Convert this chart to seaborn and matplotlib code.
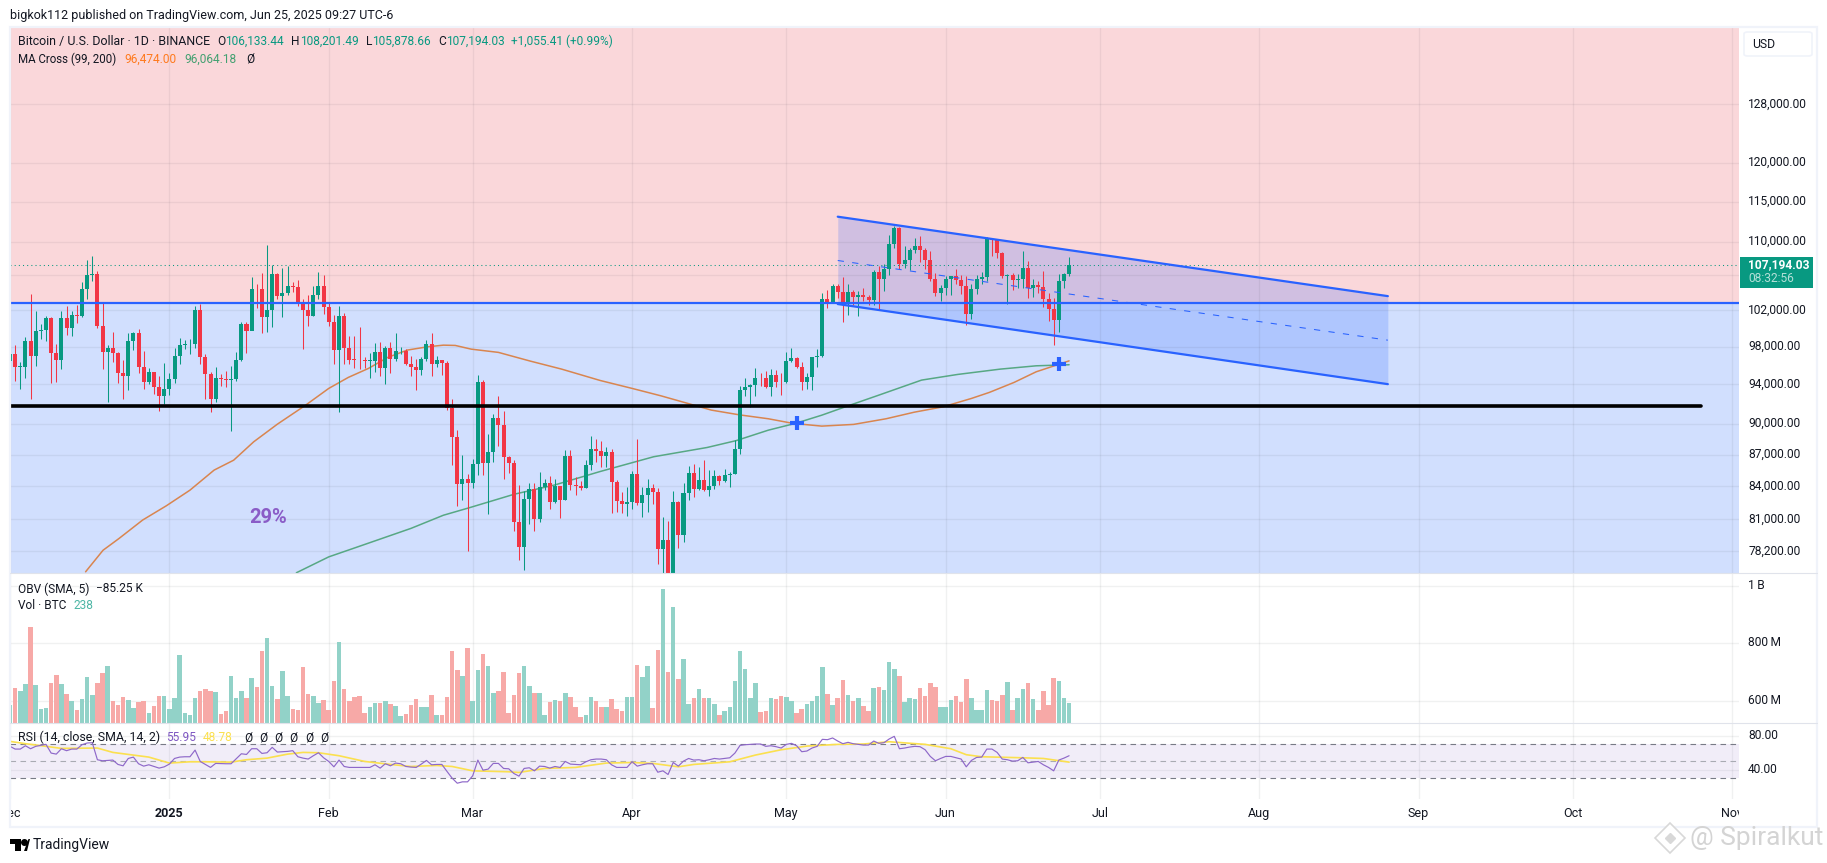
import matplotlib
matplotlib.use("Agg")
import matplotlib.pyplot as plt
import seaborn as sns
from matplotlib.lines import Line2D
from matplotlib.patches import Rectangle, FancyBboxPatch, Polygon
from matplotlib.ticker import NullLocator
from matplotlib.transforms import ScaledTranslation

W, H = 1827, 863

# daily candles, 1 Dec 2024 to 25 Jun 2025
opens = [96408,97185,95840,95849,98587,96945,99740,99831,101109,97336,96593,101125,100004,101424,101420,104463,106058,106133,100204,97461,97805,97291,95186,94881,98663,99429,95791,94299,95300,93738,92792,
 93576,94591,96984,98174,98236,98314,102078,96922,95043,92484,94701,94566,94488,94516,96534,100504,99756,104462,104408,101235,102016,106146,103653,103960,104819,104714,102682,102087,101332,103703,104735,
 102405,100655,97688,101404,97871,96615,96593,96529,96482,96500,97437,95748,97900,96623,97494,97568,96118,95800,95539,96635,98305,96181,96551,96250,91552,88680,84250,84708,
 84349,86064,94270,86220,87281,90606,89931,86801,86222,80734,78600,82862,83722,81066,83969,84343,82580,84075,82718,86854,84167,84043,83832,86054,87498,87392,86909,87232,84424,82648,82389,
 82550,85158,82516,83213,83889,83537,78430,79163,76322,82615,79607,83423,85276,83760,84591,83643,84030,84947,84474,85077,85179,87516,93442,93691,93980,94638,94631,93754,94978,94284,
 94207,96489,96818,95856,94277,94733,96834,97030,103261,102971,104809,104118,102791,104103,103507,103763,103463,103126,106454,105606,106791,109678,111673,107287,107791,109035,109440,108985,107802,105641,103999,
 104592,105642,105883,105432,104790,101579,104390,105615,105793,110294,110257,108686,105930,106040,105480,105555,106900,104550,104880,104630,103300,102120,100963,105333,106133]
highs = [97836,98130,96305,99000,103900,101898,100439,101350,101215,98270,101895,102540,101895,102650,105250,107793,108353,106524,102800,98150,99540,97400,96538,99500,99569,99963,97544,95674,95350,94903,96250,
 95151,97839,98976,98734,98813,102482,102724,97258,95349,95836,95050,95400,95940,97371,100700,100700,105865,104988,106314,109588,107240,106327,106850,107120,105286,105500,103250,103783,104800,106457,106012,
 102783,101456,102500,101740,99120,99197,100137,96880,97323,98345,98478,98119,98460,99466,97972,97700,97000,96700,96900,98766,99500,96950,96600,96500,92540,89414,87000,85120,
 86558,95000,94416,88967,91000,92810,91283,86897,86500,84123,83577,84358,84300,85309,84672,85000,84725,84075,87453,87443,84850,84513,86500,88765,88542,88292,87756,87515,84587,83534,83943,
 85487,88500,83998,84720,84266,83817,81243,80867,83588,82700,84300,85905,86100,85799,86500,85500,85500,85100,85677,85320,88460,93888,94696,94000,95758,95199,95369,95630,95461,95200,
 97437,97895,96888,96304,95199,96920,97732,103971,104361,104984,104972,105819,104976,104356,104192,104550,103709,106660,107108,107300,110797,111980,111800,109454,109300,110422,110718,109300,108910,106313,104900,
 105883,105900,106794,106000,105900,105000,106000,106450,110530,110400,110380,108800,106182,106250,106128,108952,107750,105550,105300,106500,104000,103400,106129,106300,108201]
lows = [95693,94395,93578,94660,92500,95981,98844,98657,94150,94256,95657,99311,99205,100615,101237,103333,105321,100000,95588,92232,96398,94200,92520,93400,97632,95199,93500,94000,93000,91314,92000,
 92867,94200,96100,97735,97250,97900,96132,92500,91220,92206,93831,93711,89256,94310,96500,97300,99950,102277,99517,99550,100119,103243,101262,103750,104107,102520,97777,100234,101328,103321,101560,
 100279,96150,91231,96150,96155,95707,95620,95688,94713,95256,94876,94088,95217,96503,97250,96046,94900,93388,95000,96410,94871,95800,95000,91350,86050,82256,82716,78258,
 83824,85050,85117,81500,86334,87836,84667,85218,80000,77459,76606,80635,79939,80797,83639,81981,82492,81134,82715,83655,83175,83675,83830,85519,86310,85860,85800,81565,81644,81565,81278,
 81970,82320,81211,81659,82379,77153,74508,76239,74620,78456,78971,82792,83034,83678,83600,83111,83736,84130,84388,83949,85150,87076,92800,91660,92855,93870,93602,92800,93742,92910,
 94153,96350,95700,93377,93514,93377,95784,96910,102315,102818,103345,100718,101429,102602,101383,103100,102612,102612,102000,104192,106100,109285,106800,106856,106601,108670,107556,106800,105300,103621,103100,
 103758,103700,105000,103800,100372,101080,103880,105000,105333,108300,108000,105671,102664,104300,104500,104500,103371,103500,103924,102345,100837,98200,99613,104600,105878]
closes = [97185,95840,95849,98587,96945,99740,99831,101109,97336,96593,101125,100004,101424,101420,104463,106058,106133,100204,97461,97805,97291,95186,94881,98663,99429,95791,94299,95300,93738,92792,93576,
 94591,96984,98174,98236,98314,102078,96922,95043,92484,94701,94566,94488,94516,96534,100504,99756,104462,104408,101235,102016,106146,103653,103960,104819,104714,102682,102087,101332,103703,104735,102405,
 100655,97688,101404,97871,96615,96593,96529,96482,96500,97437,95748,97900,96623,97494,97568,96118,95800,95539,96635,98305,96181,96551,96250,91552,88680,84250,84708,84349,
 86064,94270,86220,87281,90606,89931,86801,86222,80734,78600,82862,83722,81066,83969,84343,82580,84075,82718,86854,84167,84043,83832,86054,87498,87392,86909,87232,84424,82648,82389,82550,
 85158,82516,83213,83889,83537,78430,79163,76322,82615,79607,83423,85276,83760,84591,83643,84030,84947,84474,85077,85179,87516,93442,93691,93980,94638,94631,93754,94978,94284,94207,
 96489,96818,95856,94277,94733,96834,97030,103261,102971,104809,104118,102791,104103,103507,103763,103463,103126,106454,105606,106791,109678,111673,107287,107791,109035,109440,108985,107802,105641,103999,104592,
 105642,105883,105432,104790,101579,104390,105615,105793,110294,110257,108686,105930,106040,105480,105555,106900,104550,104880,104630,103300,102120,100963,105333,106133,107194]

# volume bars, in the units of the pane's right hand scale (millions)
volume = [585,644,634,658,857,655,571,575,662,690,658,624,599,568,606,683,620,662,697,721,
 599,585,613,603,575,596,599,557,582,617,617,571,610,759,557,551,610,634,641,634,
 630,554,564,686,610,634,610,679,648,773,818,651,606,704,617,571,568,718,624,617,
 592,603,568,669,805,641,599,613,617,557,578,592,592,599,589,582,547,554,585,606,
 578,578,620,551,551,613,773,707,686,784,599,707,763,721,627,634,700,557,620,697,
 721,651,627,627,551,596,603,599,627,613,578,544,551,613,599,578,578,606,571,564,
 613,613,724,683,721,575,777,989,700,926,676,745,589,610,641,610,610,589,551,564,
 578,669,773,711,610,662,561,564,610,606,617,613,599,557,571,589,599,617,718,624,
 585,610,672,620,599,610,582,564,644,648,637,735,711,686,596,610,606,644,617,662,
 648,578,578,603,617,596,676,610,568,568,637,603,599,620,665,568,610,641,662,606,
 568,634,585,679,669,610,592]

rsi = [67.3,64.1,64.1,68,64.5,67.3,68.4,69.6,59.4,58.2,64.5,62.2,64.1,64.1,69.2,71.2,71.6,51.6,50.4,50.8,
 51.2,46.1,44.5,53.1,54.7,46.9,44.1,45.7,43.7,41.8,43.3,46.5,53.1,54.7,55.1,55.1,62.9,49.6,46.1,42.6,
 47.3,47.1,46.9,46.9,52.8,58.6,57.8,64.5,64.5,59,59.8,66.1,60.6,61,61.4,62.2,55.1,53.5,52.4,56.3,
 59.8,53.9,49.6,43.3,51.2,43.7,42.6,42.6,42.6,42.6,42.6,45.7,41.8,46.9,44.5,47.7,46.9,43.7,43,42.6,
 46.5,50.8,45.7,46.1,46.1,37.9,30,24.1,25.7,25.7,32.8,51.2,39.4,40.6,47.3,47.3,41.4,41,35.5,32.4,
 41.4,42.2,38.6,44.1,43.7,41.8,43.7,42.6,49.6,46.5,46.1,45.7,49.2,51.6,52.4,52.4,51.6,45.7,42.6,42.6,
 42.6,49.2,44.1,45.7,46.9,46.9,37,38.6,34.3,48.4,44.1,50,53.1,51.2,51.6,50.4,51.6,53.1,52.4,53.1,
 53.9,59.4,68.4,69.2,69.6,70,70,67.3,68,66.9,65.3,69.6,70.8,68,61,61.8,65.3,67.3,75.5,75.1,
 77.1,73.5,70.4,72,70.4,69.6,68.8,68.8,73.5,70.8,71.6,75.9,79,64.5,65.3,66.5,67.3,66.9,63.3,55.5,
 50.4,53.1,55.5,55.5,53.9,52.4,43.3,50.8,54.3,54.7,64.1,64.1,60.2,52.4,51.6,50,50.4,54.3,48,48.8,
 49.6,45.7,42.6,38.6,51.2,53.5,56.3]

rsi_ma_days = [0,3,7,10,17,20,27,31,35,38,43,46,50,54,57,60,64,69,74,78,83,86,90,97,99,104,110,116,121,125,130,133,140,145,150,155,161,166,171,178,183,186,189,197,201,206]
rsi_ma_vals = [73.1,70.4,67.3,64.9,65.3,60.2,54.7,47.7,49.2,49.2,48.8,51.6,53.5,58.2,60.2,59.8,56.3,49.6,46.1,43.7,44.9,43.7,38.6,37.5,36.7,41.4,42.6,47.7,48.4,47.3,43.3,46.1,49.2,57.1,63.3,67.6,69.6,70,72.7,69.6,64.5,57.5,55.1,53.9,53.1,48.8]

ma99_days = [14.7,18.1,21.2,25.8,30.4,35,39.7,43.5,47.4,52,57.4,62,65.8,69.7,73.5,77.3,81.2,84.3,86.6,89.7,95,101.2,107.3,114.8,121,126.6,131.8,136.4,141.9,147.5,152.3,157.9,164.1,170.4,175.9,181.5,187,190.5,195.3,199.6,203.9,206]
ma99_vals = [76460,78300,79320,80950,82230,83660,85530,86470,88240,89970,91840,93590,94730,95670,96850,97630,97980,98160,98130,97730,97380,96450,95600,94410,93590,92830,92060,91380,90900,90510,90050,89780,89950,90510,91170,91710,92560,93180,94210,95320,96090,96474]
ma200_days = [55.7,62,67.3,78,84.3,89.3,98.1,105.8,114.8,125.2,135.6,141.2,147.5,152.9,157.9,163.4,169,177.3,184.3,192.6,199.6,206]
ma200_vals = [76380,77730,78540,80210,81380,82050,83290,84120,85400,86800,87690,88350,89380,90070,90870,91880,92900,94450,95040,95600,95950,96064]

channel_days = [161, 268]
channel_top = [113090, 103610]
channel_mid = [107760, 98700]
channel_bot = [102710, 94030]
cross_days = [153, 204]
cross_vals = [90070, 96090]

blue_level = 102830
black_level = 91840
black_end = 329
last_price = 107194.03

price_ticks = [128000,120000,115000,110000,106000,102000,98000,94000,90000,87000,84000,81000,78200]
vol_ticks = [1000,800,600]
vol_labels = ["1\u2009B","800\u2009M","600\u2009M"]
rsi_ticks = [80,40]
month_days = [0,31,62,90,121,151,182,212,243,274,304,335]
month_names = ["Dec","2025","Feb","Mar","Apr","May","Jun","Jul","Aug","Sep","Oct","Nov"]

GREEN = "#089981"
RED = "#f23645"
BLUE = "#2962ff"
DARK = "#131722"
GRID = "#2a2e39"

sns.set_theme(style="white")
plt.rcParams["font.family"] = ["Roboto", "DejaVu Sans"]
plt.rcParams["axes.unicode_minus"] = False


def pane(top, bottom, left=10, right=1739):
    return fig.add_axes([left / W, 1 - bottom / H, (right - left) / W, (bottom - top) / H])


def label(x, y, s, **kw):
    kw.setdefault("color", DARK)
    kw.setdefault("fontsize", 8.6)
    kw.setdefault("va", "center")
    fig.text(x / W, 1 - y / H, s, **kw)


fig = plt.figure(figsize=(W / 100, H / 100), dpi=100, facecolor="white")
ax = pane(27, 573)
ax_vol = pane(573, 722.7)
ax_rsi = pane(722.7, 799)
ax_time = pane(799, 827)
days = list(range(len(closes)))
xlim = (0.08, 336.3)

# price pane
ax.set_yscale("log")
ax.set_ylim(76360, 139390)
ax.axhspan(blue_level, 139390, color="#fad7da", lw=0, zorder=0)
ax.axhspan(76360, blue_level, color="#d1dffe", lw=0, zorder=0)
ax.fill_between(channel_days, channel_bot, channel_top, color=BLUE, alpha=0.2, lw=0, zorder=2)

sns.lineplot(x=ma99_days, y=ma99_vals, color="#d9854f", lw=1.1, ax=ax, zorder=3)
sns.lineplot(x=ma200_days, y=ma200_vals, color="#57a884", lw=1.1, ax=ax, zorder=3)

colors = [GREEN if c >= o else RED for o, c in zip(opens, closes)]
ax.vlines(days, lows, highs, colors=colors, lw=0.75, zorder=4)
ax.bar(days, [max(abs(c - o), 60) for o, c in zip(opens, closes)], bottom=[min(o, c) for o, c in zip(opens, closes)],
       width=0.78, color=colors, lw=0, zorder=4)

ax.axhline(last_price, color=GREEN, lw=0.75, ls=(0, (1, 3)), zorder=4)
ax.axhline(blue_level, color=BLUE, lw=1.6, zorder=5)
ax.plot([0, black_end], [black_level, black_level], color="black", lw=2.6, zorder=5, solid_capstyle="round")
ax.plot(channel_days, channel_top, color=BLUE, lw=1.6, zorder=5)
ax.plot(channel_days, channel_bot, color=BLUE, lw=1.6, zorder=5)
ax.plot(channel_days, channel_mid, color=BLUE, lw=0.75, ls=(0, (6, 8)), zorder=5)
ax.plot(cross_days, cross_vals, ls="", marker="+", ms=10, mew=3, color=BLUE, zorder=6)
ax.text(50.3, 81200, "29%", color="#8a5cc7", fontsize=14.5, fontweight="bold", ha="center", va="center")

ax.set_yticks(price_ticks)
ax.set_yticklabels(["" if v == 106000 else f"{v:,.2f}" for v in price_ticks])
ax.yaxis.set_minor_locator(NullLocator())

# volume pane
sides = ["up" if c >= o else "down" for o, c in zip(opens, closes)]
sns.barplot(x=days, y=volume, hue=sides, hue_order=["up", "down"], palette={"up": "#92d2c8", "down": "#f7a9a7"},
            native_scale=True, dodge=False, width=0.88, saturation=1, errorbar=None, legend=False, ax=ax_vol,
            zorder=3, linewidth=0)
ax_vol.set_ylim(524, 1044)
ax_vol.set_yticks(vol_ticks)
ax_vol.set_yticklabels(vol_labels)

# rsi pane
ax_rsi.set_ylim(5.6, 95)
ax_rsi.axhspan(30, 70, color="#7e57c2", alpha=0.1, lw=0)
for level, shade in [(70, "#787b86"), (50, "#a9abb3"), (30, "#787b86")]:
    ax_rsi.axhline(level, color=shade, lw=0.8, ls=(0, (5, 4)), zorder=2)
sns.lineplot(x=rsi_ma_days, y=rsi_ma_vals, color="#fbe04f", lw=1.2, ax=ax_rsi, zorder=3)
sns.lineplot(x=days, y=rsi, color="#8e68c9", lw=0.85, ax=ax_rsi, zorder=4)
ax_rsi.set_yticks(rsi_ticks)
ax_rsi.set_yticklabels(["80.00", "40.00"])

for a in (ax, ax_vol, ax_rsi):
    a.set_xlim(*xlim)
    a.set_xticks(month_days)
    a.set_xticklabels([])
    a.set_xlabel("")
    a.set_ylabel("")
    a.grid(True, color=GRID, alpha=0.065, lw=1)
    a.set_axisbelow(False if a is ax else True)
    a.yaxis.tick_right()
    a.tick_params(axis="both", length=0, labelsize=8.65, labelcolor=DARK, pad=6.5)
    a.patch.set_alpha(0)
    for s in a.spines.values():
        s.set_visible(False)
    # the labels sit a little above their grid lines in the reference
    for t in a.get_yticklabels():
        t.set_transform(t.get_transform() + ScaledTranslation(0, 0.018, fig.dpi_scale_trans))

# time axis
ax_time.set_xlim(*xlim)
ax_time.set_ylim(0, 1)
ax_time.axis("off")
for d, name in zip(month_days, month_names):
    ax_time.text(d, 0.5, name, ha="center", va="center", fontsize=9, color=DARK, clip_on=True,
                 fontweight="bold" if name == "2025" else "normal")

# frame round the chart
fig.add_artist(Rectangle((10 / W, 1 - 827 / H), 1807 / W, 800 / H, transform=fig.transFigure, fill=False,
                         ec="#f0f3fa", lw=1.6))
for y in (573.3, 722.7):
    fig.add_artist(Line2D([10 / W, 1817 / W], [1 - y / H] * 2, color="#e0e3eb", lw=0.8))

# last price badge and currency box
fig.add_artist(Rectangle((1740 / W, 1 - 287.7 / H), 73 / W, 30.7 / H, transform=fig.transFigure, color=GREEN, lw=0))
label(1748, 265, "107,194.03", color="white", fontsize=8.65, fontweight="bold")
label(1748, 278.5, "08:32:56", color="#b5e0d8", fontsize=8.65)
fig.add_artist(FancyBboxPatch((1744 / W, 1 - 56 / H), 68 / W, 24 / H, boxstyle="round,pad=0,rounding_size=0.002",
                              transform=fig.transFigure, fc="white", ec="#f0f3fa", lw=1.2))
label(1752, 44.5, "USD", fontsize=8.8)

# header and legends
label(10, 15, "bigkok112 published on TradingView.com, Jun 25, 2025 09:27 UTC-6", fontsize=9)
label(17.8, 41.7, "Bitcoin / U.S. Dollar · 1D · BINANCE", fontsize=8.9)
for x, s, c in [(217, "O", DARK), (225, "106,133.44", GREEN), (291.5, "H", DARK), (300, "108,201.49", GREEN),
                (366, "L", DARK), (372, "105,878.66", GREEN), (438, "C", DARK), (446, "107,194.03", GREEN),
                (511, "+1,055.41 (+0.99%)", GREEN)]:
    label(x, 41.7, s, color=c)
label(17.8, 59, "MA Cross (99, 200)", fontsize=8.3)
label(124, 59, "96,474.00", color="#ff7a1e")
label(184, 59, "96,064.18", color="#43a071")
label(246, 59, "Ø")
label(18, 589, "OBV (SMA, 5)")
label(95.7, 589, "−85.25 K")
label(18, 605.7, "Vol · BTC")
label(74, 605.7, "238", color="#4db6a5")
label(18, 737.7, "RSI (14, close, SMA, 14, 2)", fontsize=8.9)
label(166, 737.7, "55.95", color="#7e57c2")
label(202.5, 737.7, "48.78", color="#fbe04f")
for x in (244, 259, 274, 289, 305, 320):
    label(x, 737.7, "Ø")


# logo, name and watermark along the bottom
def px(x, y):
    return (x / W, 1 - y / H)


fig.add_artist(Polygon([px(10, 839), px(21, 839), px(21, 851), px(15.5, 851), px(15.5, 844), px(10, 844)],
                       transform=fig.transFigure, color="black", lw=0))
fig.add_artist(Polygon([px(24, 851), px(28.5, 839), px(31, 839), px(30, 839), px(27, 851)], transform=fig.transFigure, color="black", lw=0))
fig.add_artist(Line2D([24 / W], [1 - 841.5 / H], marker="o", ms=4, color="black"))
label(33, 845, "TradingView", fontsize=10)
fig.add_artist(Line2D([1670 / W], [1 - 838 / H], marker="D", ms=15, mfc="white", mec="#d8d8d8", mew=1.2))
fig.add_artist(Line2D([1670 / W], [1 - 838 / H], marker="D", ms=5, color="#d8d8d8"))
label(1690, 838, "@ Spiralkut", color="#d4d4d4", fontsize=19)

fig.savefig("out.png", dpi=100)
